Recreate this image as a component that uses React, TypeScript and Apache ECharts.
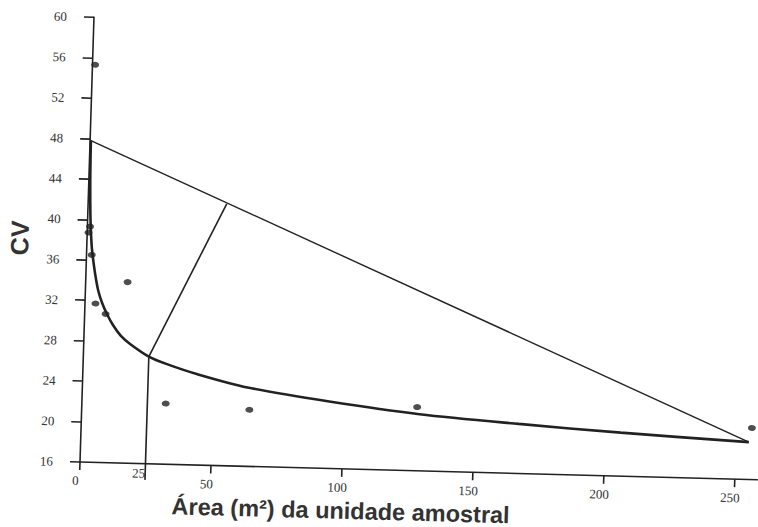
import React, { useEffect, useRef } from "react";
import * as echarts from "echarts";

// Observed plot areas (m²) and their coefficient of variation (%)
const areaX = [1, 1, 0.5, 2, 4, 8, 16, 32, 64, 128, 256];
const cvObs = [55.3, 39.3, 38.7, 36.5, 31.7, 30.7, 33.9, 22.0, 21.6, 22.3, 21.1];

// Fitted curve
const curveX = [0.3, 0.5, 1, 1.5, 2, 3, 4, 5, 6.5, 8.5, 11, 14, 17.7, 25, 32, 43.5, 63, 95, 129, 167, 206, 255];
const curveCV = [47.8, 44.3, 40.5, 38.5, 37.1, 35.4, 34.0, 32.9, 31.8, 30.7, 29.6, 28.6, 27.8, 26.6, 25.9, 25.0, 23.8, 22.6, 21.6, 20.9, 20.3, 19.7];

// Chord between the curve's ends
const chordX = [0.3, 255];
const chordCV = [47.8, 19.7];

// Perpendicular from the point of maximum curvature to the chord
const perpX = [25, 52.9];
const perpCV = [26.6, 41.9];

// Vertical drop from that point to the x axis
const cutX = [25, 25];
const cutCV = [26.6, 14.4];

// Tick labels
const xTickValues = [0, 50, 100, 150, 200, 250];
const xCutLabel = [25];
const yMin = 16;
const yMax = 60;
const yStep = 4;

const pairs = (xs: number[], ys: number[]) => xs.map((x, i) => [x, ys[i]]);

const INK = "#222";
const SERIF = "'Liberation Serif', 'DejaVu Serif', serif";
const SANS = "'Liberation Sans', Arial, sans-serif";

export default function App() {
  const ref = useRef<HTMLDivElement>(null);

  useEffect(() => {
    if (!ref.current) return;
    const chart = echarts.init(ref.current, undefined, { renderer: "svg" });
    chart.setOption({
      animation: false,
      backgroundColor: "#fff",
      grid: { left: 80, top: 17, bottom: 65, right: -3, containLabel: false, outerBoundsMode: "none" },
      xAxis: [
        {
          type: "value",
          min: 0,
          max: 260,
          position: "bottom",
          axisLine: { show: true, onZero: false, lineStyle: { color: INK, width: 1.6 } },
          axisTick: { show: true, customValues: xTickValues, length: 8, lineStyle: { color: INK, width: 1.6 } },
          axisLabel: {
            customValues: xTickValues,
            margin: 12,
            fontFamily: SERIF,
            fontSize: 13,
            color: "#333",
            padding: [0, 8, 0, 0],
          },
          splitLine: { show: false },
          name: "Área (m²) da unidade amostral",
          nameLocation: "middle",
          nameGap: 28,
          nameTextStyle: {
            padding: [0, 157, 0, 0],
            fontFamily: SANS,
            fontWeight: "bold",
            fontSize: 23.5,
            lineHeight: 24,
            color: "#333",
          },
        },
        {
          type: "value",
          min: 0,
          max: 260,
          position: "bottom",
          offset: 0,
          axisLine: { show: false },
          axisTick: { show: false },
          splitLine: { show: false },
          axisLabel: {
            customValues: xCutLabel,
            margin: 3,
            align: "right",
            fontFamily: SERIF,
            fontSize: 13,
            color: "#333",
          },
        },
      ],
      yAxis: {
        type: "value",
        min: yMin,
        max: yMax,
        interval: yStep,
        axisLine: { show: true, onZero: false, lineStyle: { color: INK, width: 1.6 } },
        axisTick: { show: true, length: 10, lineStyle: { color: INK, width: 1.6 } },
        axisLabel: { margin: 27, fontFamily: SERIF, fontSize: 13, color: "#333" },
        splitLine: { show: false },
        name: "CV",
        nameLocation: "middle",
        nameGap: 55,
        nameTextStyle: { fontFamily: SANS, fontWeight: "bold", fontSize: 25, color: "#333" },
      },
      series: [
        {
          type: "line",
          data: pairs(curveX, curveCV),
          smooth: 0.3,
          showSymbol: false,
          symbol: "none",
          lineStyle: { color: INK, width: 2.6 },
          z: 3,
        },
        {
          type: "line",
          data: pairs(chordX, chordCV),
          showSymbol: false,
          symbol: "none",
          lineStyle: { color: INK, width: 1.4 },
        },
        {
          type: "line",
          data: pairs(perpX, perpCV),
          showSymbol: false,
          symbol: "none",
          lineStyle: { color: INK, width: 1.6 },
        },
        {
          type: "line",
          data: pairs(cutX, cutCV),
          showSymbol: false,
          symbol: "none",
          clip: false,
          lineStyle: { color: INK, width: 1.6 },
        },
        {
          type: "scatter",
          data: pairs(areaX, cvObs),
          symbol: "circle",
          symbolSize: [8, 6],
          itemStyle: { color: "#222" },
          clip: false,
          z: 4,
        },
      ],
    });
    return () => chart.dispose();
  }, []);

  return (
    <div style={{ position: "fixed", left: 0, top: 0, width: 758, height: 527, background: "#fff", overflow: "hidden" }}>
      <div
        ref={ref}
        style={{
          position: "absolute",
          left: 0,
          top: 0,
          width: 758,
          height: 527,
          transformOrigin: "80px 462px",
          transform: "matrix(0.99966, 0.02618, -0.03141, 0.99951, 0, 0)",
        }}
      />
    </div>
  );
}
